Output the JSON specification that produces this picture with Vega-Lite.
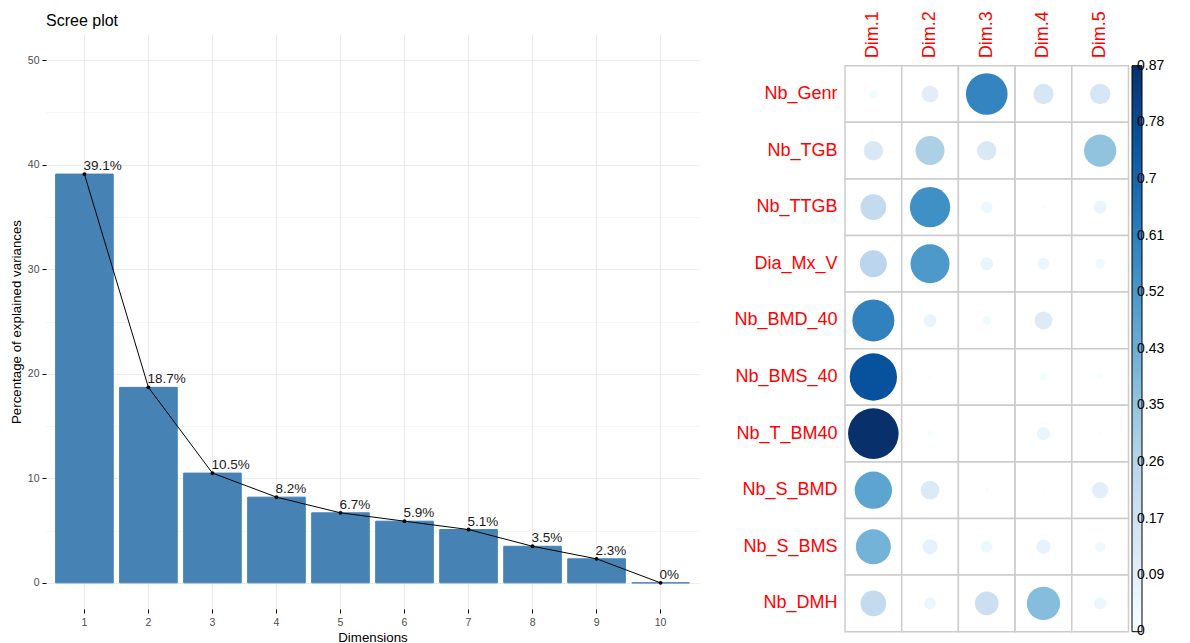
{
  "$schema": "https://vega.github.io/schema/vega-lite/v6.json",
  "padding": {"left": 9, "top": 10, "right": 0, "bottom": 0},
  "background": "white",
  "config": {"font": "Liberation Sans", "view": {"stroke": null}, "concat": {"spacing": 34}},
  "datasets": {
    "eig": [
      {"dim": "1", "pct": 39.1, "label": "39.1%"},
      {"dim": "2", "pct": 18.7, "label": "18.7%"},
      {"dim": "3", "pct": 10.5, "label": "10.5%"},
      {"dim": "4", "pct": 8.2, "label": "8.2%"},
      {"dim": "5", "pct": 6.7, "label": "6.7%"},
      {"dim": "6", "pct": 5.9, "label": "5.9%"},
      {"dim": "7", "pct": 5.1, "label": "5.1%"},
      {"dim": "8", "pct": 3.5, "label": "3.5%"},
      {"dim": "9", "pct": 2.3, "label": "2.3%"},
      {"dim": "10", "pct": 0.0, "label": "0%"}
    ],
    "cos2": [
      {"var": "Nb_Genr", "dim": "Dim.1", "value": 0.022},
      {"var": "Nb_Genr", "dim": "Dim.2", "value": 0.095},
      {"var": "Nb_Genr", "dim": "Dim.3", "value": 0.59},
      {"var": "Nb_Genr", "dim": "Dim.4", "value": 0.14},
      {"var": "Nb_Genr", "dim": "Dim.5", "value": 0.14},
      {"var": "Nb_TGB", "dim": "Dim.1", "value": 0.127},
      {"var": "Nb_TGB", "dim": "Dim.2", "value": 0.286},
      {"var": "Nb_TGB", "dim": "Dim.3", "value": 0.127},
      {"var": "Nb_TGB", "dim": "Dim.4", "value": 0.001},
      {"var": "Nb_TGB", "dim": "Dim.5", "value": 0.355},
      {"var": "Nb_TTGB", "dim": "Dim.1", "value": 0.224},
      {"var": "Nb_TTGB", "dim": "Dim.2", "value": 0.552},
      {"var": "Nb_TTGB", "dim": "Dim.3", "value": 0.046},
      {"var": "Nb_TTGB", "dim": "Dim.4", "value": 0.003},
      {"var": "Nb_TTGB", "dim": "Dim.5", "value": 0.057},
      {"var": "Dia_Mx_V", "dim": "Dim.1", "value": 0.248},
      {"var": "Dia_Mx_V", "dim": "Dim.2", "value": 0.517},
      {"var": "Dia_Mx_V", "dim": "Dim.3", "value": 0.057},
      {"var": "Dia_Mx_V", "dim": "Dim.4", "value": 0.05},
      {"var": "Dia_Mx_V", "dim": "Dim.5", "value": 0.032},
      {"var": "Nb_BMD_40", "dim": "Dim.1", "value": 0.6},
      {"var": "Nb_BMD_40", "dim": "Dim.2", "value": 0.057},
      {"var": "Nb_BMD_40", "dim": "Dim.3", "value": 0.028},
      {"var": "Nb_BMD_40", "dim": "Dim.4", "value": 0.11},
      {"var": "Nb_BMD_40", "dim": "Dim.5", "value": 0.0},
      {"var": "Nb_BMS_40", "dim": "Dim.1", "value": 0.76},
      {"var": "Nb_BMS_40", "dim": "Dim.2", "value": 0.002},
      {"var": "Nb_BMS_40", "dim": "Dim.3", "value": 0.001},
      {"var": "Nb_BMS_40", "dim": "Dim.4", "value": 0.02},
      {"var": "Nb_BMS_40", "dim": "Dim.5", "value": 0.008},
      {"var": "Nb_T_BM40", "dim": "Dim.1", "value": 0.87},
      {"var": "Nb_T_BM40", "dim": "Dim.2", "value": 0.011},
      {"var": "Nb_T_BM40", "dim": "Dim.3", "value": 0.0},
      {"var": "Nb_T_BM40", "dim": "Dim.4", "value": 0.06},
      {"var": "Nb_T_BM40", "dim": "Dim.5", "value": 0.003},
      {"var": "Nb_S_BMD", "dim": "Dim.1", "value": 0.473},
      {"var": "Nb_S_BMD", "dim": "Dim.2", "value": 0.119},
      {"var": "Nb_S_BMD", "dim": "Dim.3", "value": 0.005},
      {"var": "Nb_S_BMD", "dim": "Dim.4", "value": 0.002},
      {"var": "Nb_S_BMD", "dim": "Dim.5", "value": 0.09},
      {"var": "Nb_S_BMS", "dim": "Dim.1", "value": 0.416},
      {"var": "Nb_S_BMS", "dim": "Dim.2", "value": 0.076},
      {"var": "Nb_S_BMS", "dim": "Dim.3", "value": 0.046},
      {"var": "Nb_S_BMS", "dim": "Dim.4", "value": 0.07},
      {"var": "Nb_S_BMS", "dim": "Dim.5", "value": 0.036},
      {"var": "Nb_DMH", "dim": "Dim.1", "value": 0.224},
      {"var": "Nb_DMH", "dim": "Dim.2", "value": 0.049},
      {"var": "Nb_DMH", "dim": "Dim.3", "value": 0.19},
      {"var": "Nb_DMH", "dim": "Dim.4", "value": 0.377},
      {"var": "Nb_DMH", "dim": "Dim.5", "value": 0.049}
    ]
  },
  "hconcat": [
    {
      "width": 653,
      "height": 575,
      "title": {"text": "Scree plot", "anchor": "start", "frame": "group", "fontSize": 16, "fontWeight": "normal", "color": "black", "offset": 5},
      "data": {"name": "eig"},
      "encoding": {
        "x": {
          "field": "dim", "type": "ordinal", "sort": null,
          "scale": {"paddingInner": 0.1, "paddingOuter": 0.15},
          "axis": {"title": "Dimensions", "labelAngle": 0, "labelColor": "#4D4D4D", "labelFontSize": 10.5, "tickColor": "black", "tickSize": 4, "domain": false, "grid": true, "gridColor": "#EBEBEB", "titleFontSize": 13.3, "titleFontWeight": "normal", "titleColor": "black", "labelPadding": 4, "titlePadding": 3}
        },
        "y": {
          "field": "pct", "type": "quantitative",
          "scale": {"domain": [-2.5, 52.5], "zero": false, "nice": false},
          "axis": {
            "title": "Percentage of explained variances",
            "values": [0, 5, 10, 15, 20, 25, 30, 35, 40, 45, 50],
            "labelExpr": "datum.value % 10 === 0 ? datum.label : ''",
            "tickColor": {"condition": {"test": "datum.value % 10 !== 0", "value": "transparent"}, "value": "black"},
            "gridWidth": {"condition": {"test": "datum.value % 10 !== 0", "value": 0.5}, "value": 1},
            "gridColor": "#EBEBEB", "domain": false, "labelColor": "#4D4D4D", "labelFontSize": 10.5, "tickSize": 4, "labelPadding": 3,
            "titleFontSize": 13.3, "titleFontWeight": "normal", "titleColor": "black", "titlePadding": 3, "minExtent": 20, "maxExtent": 20
          }
        }
      },
      "layer": [
        {"mark": {"type": "bar", "color": "#4682B4", "stroke": "#4682B4", "strokeWidth": 1}, "encoding": {"y2": {"datum": 0}}},
        {"mark": {"type": "line", "color": "black", "strokeWidth": 1}, "encoding": {}},
        {"mark": {"type": "point", "filled": true, "color": "black", "size": 15, "opacity": 1}, "encoding": {}},
        {"mark": {"type": "text", "align": "left", "baseline": "alphabetic", "dx": -1, "dy": -4, "fontSize": 13.5, "color": "#1a1a1a"}, "encoding": {"text": {"field": "label"}}}
      ]
    },
    {
      "width": 283.5,
      "height": 597.7,
      "data": {"name": "cos2"},
      "encoding": {
        "x": {"field": "dim", "type": "nominal", "sort": null, "scale": {"paddingInner": 0, "paddingOuter": 0},
          "axis": {"orient": "top", "offset": -31.7, "title": null, "labelAngle": -90, "labelAlign": "left", "labelBaseline": "middle", "labelColor": "red", "labelFontSize": 18, "ticks": false, "domain": false, "labelPadding": 8}},
        "y": {"field": "var", "type": "nominal", "sort": null, "scale": {"paddingInner": 0, "paddingOuter": 0, "range": [31.7, 597.7]},
          "axis": {"title": null, "labelColor": "red", "labelFontSize": 18, "ticks": false, "domain": false, "labelPadding": 8, "minExtent": 100, "maxExtent": 100}}
      },
      "layer": [
        {"mark": {"type": "rect", "fill": "white", "stroke": "#CCCCCC", "strokeWidth": 1.5}},
        {"mark": {"type": "circle", "opacity": 1},
          "encoding": {
            "size": {"field": "value", "type": "quantitative", "scale": {"domain": [0, 0.87], "range": [0, 2560]}, "legend": null},
            "color": {"field": "value", "type": "quantitative",
              "scale": {"domain": [0, 0.10875, 0.2175, 0.32625, 0.435, 0.54375, 0.6525, 0.76125, 0.87], "range": ["#FFFFFF", "#DEEBF7", "#C6DBEF", "#9ECAE1", "#6BAED6", "#4292C6", "#2171B5", "#08519C", "#08306B"]},
              "legend": {"title": null, "orient": "none", "legendX": 1086, "legendY": 31.7, "values": [0.0008, 0.087, 0.174, 0.261, 0.348, 0.435, 0.522, 0.609, 0.696, 0.783, 0.8692], "format": ".2~f", "gradientLength": 566, "gradientThickness": 10, "gradientStrokeColor": "black", "gradientStrokeWidth": 1, "labelFontSize": 14, "labelColor": "black", "labelOffset": -5, "labelBaseline": "middle", "direction": "vertical", "labelOverlap": false}}
          }
        }
      ]
    }
  ]
}
